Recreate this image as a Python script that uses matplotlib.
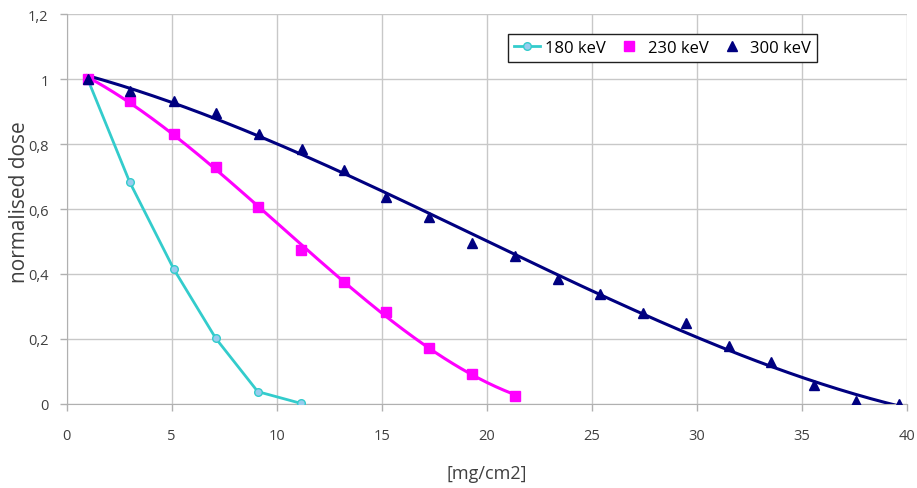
import numpy as np
import matplotlib
matplotlib.use("Agg")
import matplotlib.pyplot as plt
from matplotlib.ticker import FuncFormatter

plt.rcParams['font.family'] = ['Open Sans', 'DejaVu Sans']

# 180 keV (points joined by straight lines)
x180 = [1.0, 3.0, 5.1, 7.1, 9.1, 11.15]
y180 = [1.0, 0.683, 0.415, 0.202, 0.038, 0.002]

# 230 keV (points + polynomial trendline)
x230 = [1.0, 3.0, 5.1, 7.1, 9.1, 11.15, 13.2, 15.2, 17.25, 19.3, 21.35]
y230 = [1.0, 0.933, 0.831, 0.728, 0.607, 0.474, 0.376, 0.282, 0.171, 0.093, 0.025]

# 300 keV (points + polynomial trendline)
x300 = [1.0, 3.0, 5.1, 7.1, 9.15, 11.2, 13.2, 15.2, 17.25, 19.3, 21.35,
        23.4, 25.4, 27.45, 29.5, 31.55, 33.55, 35.6, 37.6, 39.65]
y300 = [1.0, 0.964, 0.931, 0.894, 0.831, 0.785, 0.719, 0.636, 0.576, 0.496, 0.454,
        0.386, 0.337, 0.279, 0.248, 0.177, 0.129, 0.057, 0.008, 0.0]

fig = plt.figure(figsize=(9.17, 4.89), dpi=100)
ax = fig.add_axes([0.0727, 0.1718, 0.9161, 0.7975])

grid_c = '#c8c8c8'
ax.grid(True, color=grid_c, linewidth=1.0)
ax.set_axisbelow(True)
for side in ['top', 'right']:
    ax.spines[side].set_visible(False)
ax.spines['left'].set_color('#b0b0b0')
ax.spines['bottom'].set_color('#b0b0b0')

ax.plot(x180, y180, '-o', color='#33CCCC', linewidth=2.0, markersize=5.5,
        markerfacecolor='#99CCEE', markeredgecolor='#33CCCC', markeredgewidth=1.0,
        label='180 keV', zorder=3)

ax.plot(x230, y230, 's', color='#FF00FF', markersize=6.5, linestyle='none',
        label='230 keV', zorder=4)
c230 = np.polyfit(x230, y230, 3)
xf = np.linspace(x230[0], x230[-1], 200)
ax.plot(xf, np.polyval(c230, xf), color='#FF00FF', linewidth=2.2, zorder=3)

ax.plot(x300, y300, '^', color='#000080', markersize=7, linestyle='none',
        label='300 keV', zorder=4)
c300 = np.polyfit(x300, y300, 3)
xf = np.linspace(x300[0], x300[-1], 200)
ax.plot(xf, np.polyval(c300, xf), color='#000080', linewidth=2.2, zorder=3)

ax.set_xlim(0, 40)
ax.set_ylim(0, 1.2)
ax.set_xticks(np.arange(0, 41, 5))
ax.set_yticks(np.arange(0, 1.21, 0.2))
ax.yaxis.set_major_formatter(FuncFormatter(lambda v, p: ('%g' % round(v, 1)).replace('.', ',')))
ax.tick_params(axis='both', colors='#b0b0b0', labelcolor='#404040', labelsize=10.5,
               length=5, width=1.0)
ax.tick_params(axis='x', pad=12)
ax.tick_params(axis='y', pad=8)

ax.set_xlabel('[mg/cm2]', fontsize=13, color='#404040')
ax.set_ylabel('normalised dose', fontsize=15, color='#404040')
ax.xaxis.set_label_coords(0.5, -0.155)
ax.yaxis.set_label_coords(-0.044, 0.52)

leg = ax.legend(loc='upper left', bbox_to_anchor=(0.525, 0.949), ncol=3,
                fontsize=12, frameon=True, fancybox=False, framealpha=1,
                edgecolor='#202020', handlelength=1.6, columnspacing=0.6,
                borderpad=0.35, handletextpad=0.3, borderaxespad=0)
leg.get_frame().set_linewidth(1.0)

fig.savefig('out.png', dpi=100)
